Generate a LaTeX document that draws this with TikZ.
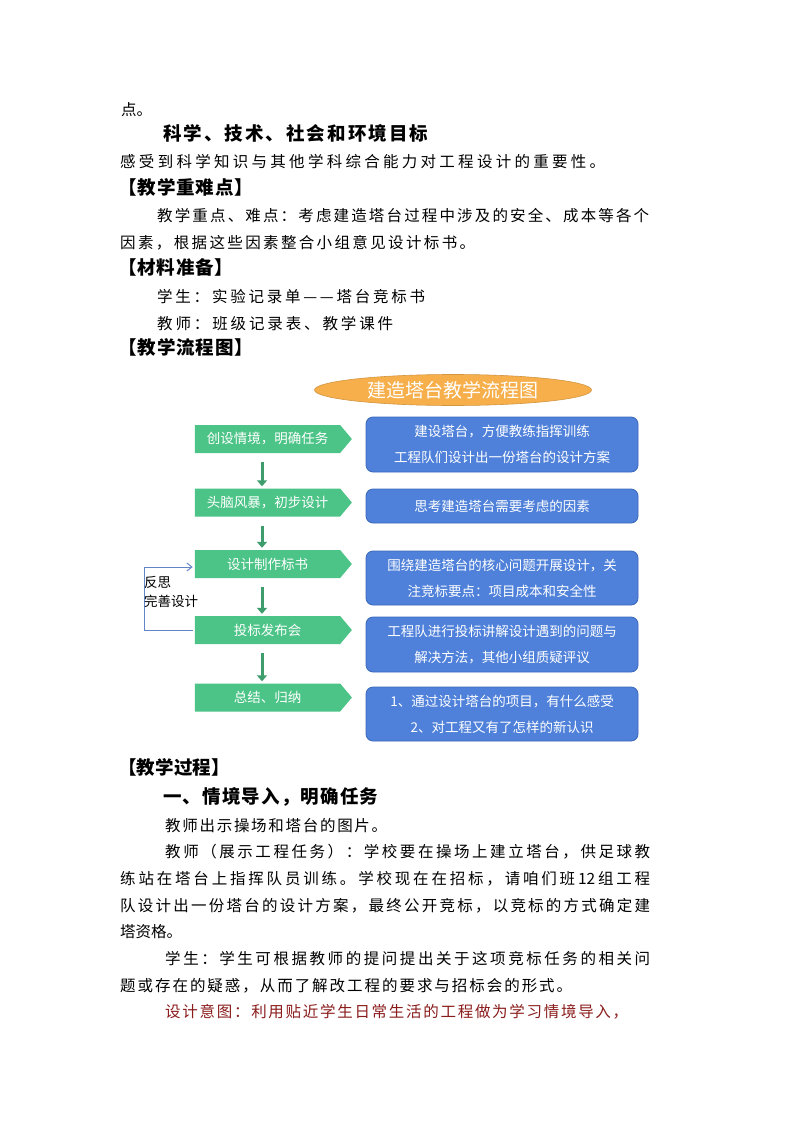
\documentclass[tikz,border=0pt]{standalone}
\usepackage{fontspec}
\setmainfont{Noto Sans CJK SC}
\usetikzlibrary{shapes.symbols,shapes.geometric,arrows.meta}
\makeatletter
\def\sprEnd{\sprEnd}
\def\spr#1#2\sprEnd{#1\sprA#2\sprEnd}
\def\sprA#1{\def\spr@t{#1}\ifx\spr@t\sprEnd\else\hfill#1\expandafter\sprA\fi}
\makeatother
\definecolor{gfill}{HTML}{4CC487}
\definecolor{bfill}{HTML}{4F81DA}
\definecolor{bline}{HTML}{3A67BA}
\definecolor{ofill}{HTML}{F7AF4B}
\definecolor{dred}{HTML}{8B1C1C}
\tikzset{
 body/.style={font=\fontsize{15.5}{18}\selectfont},
 head/.style={font=\fontsize{18.5}{20}\selectfont\bfseries},
 gbox/.style={shape=signal,signal to=east,signal pointer angle=100,fill=gfill,text=white,minimum width=157pt,minimum height=28pt,inner sep=0,font=\fontsize{13.5}{16}\selectfont},
 bbox/.style={rounded corners=7pt,fill=bfill,draw=bline,line width=0.8pt,text=white,minimum width=272pt,inner sep=0,align=center,font=\fontsize{13.5}{26}\selectfont},
 garrow/.style={draw=gfill!80!black,line width=3pt,-{Triangle[width=10pt,length=6pt]},shorten <=9pt,shorten >=2pt},
 fb/.style={draw=bline!80,line width=1pt,-{Straight Barb[length=5pt,width=8pt]}}
}
\begin{document}
\begin{tikzpicture}[x=1pt,y=-1pt]
\useasboundingbox[fill=white] (0,0) rectangle (794,1123);
% top text
\node[anchor=west,inner sep=0,body] (t0) at (121,110) {点。};
\node[anchor=west,inner sep=0,head] (h1) at (163,133) {\makebox[265pt][l]{\spr 科学、技术、社会和环境目标\sprEnd}};
\node[anchor=west,inner sep=0,body] (t1) at (120,162) {\makebox[485pt][l]{\spr 感受到科学知识与其他学科综合能力对工程设计的重要性。\sprEnd}};
\node[anchor=west,inner sep=0,head] (h2) at (118,187) {\makebox[135pt][l]{\spr 【教学重难点】\sprEnd}};
\node[anchor=west,inner sep=0,body] (t2) at (157,216) {\makebox[492pt][l]{\spr 教学重点、难点：考虑建造塔台过程中涉及的安全、成本等各个\sprEnd}};
\node[anchor=west,inner sep=0,body] (t3) at (120,243) {\makebox[355pt][l]{\spr 因素，根据这些因素整合小组意见设计标书。\sprEnd}};
\node[anchor=west,inner sep=0,head] (h3) at (118,267) {\makebox[115pt][l]{\spr 【材料准备】\sprEnd}};
\node[anchor=west,inner sep=0,body] (t4) at (157,297) {\makebox[268pt][l]{\spr 学生：实验记录单——塔台竞标书\sprEnd}};
\node[anchor=west,inner sep=0,body] (t5) at (157,324) {\makebox[236pt][l]{\spr 教师：班级记录表、教学课件\sprEnd}};
\node[anchor=west,inner sep=0,head] (h4) at (118,347) {\makebox[135pt][l]{\spr 【教学流程图】\sprEnd}};
% flowchart
\node[ellipse,fill=ofill,draw=ofill!85!black,line width=0.6pt,minimum width=277pt,minimum height=31pt,inner sep=0,text=white,font=\fontsize{19}{20}\selectfont] (title) at (453,390) {建造塔台教学流程图};
\node[gbox] (g1) at (267.5,439) {创设情境，明确任务};
\node[gbox] (g2) at (267.5,502.5) {头脑风暴，初步设计};
\node[gbox] (g3) at (267.5,564) {设计制作标书};
\node[gbox] (g4) at (267.5,630) {投标发布会};
\node[gbox] (g5) at (267.5,697.5) {总结、归纳};
\node[bbox,minimum height=55pt] (b1) at (502,444.5) {建设塔台，方便教练指挥训练\\工程队们设计出一份塔台的设计方案};
\node[bbox,minimum height=34pt] (b2) at (502,506) {思考建造塔台需要考虑的因素};
\node[bbox,minimum height=54pt] (b3) at (502,578) {围绕建造塔台的核心问题开展设计，关\\注竞标要点：项目成本和安全性};
\node[bbox,minimum height=55pt] (b4) at (502,644.5) {工程队进行投标讲解设计遇到的问题与\\解决方法，其他小组质疑评议};
\node[bbox,minimum height=54pt] (b5) at (502,714) {1、通过设计塔台的项目，有什么感受\\2、对工程又有了怎样的新认识};
\foreach \a/\b in {g1/g2,g2/g3,g3/g4,g4/g5}
  \draw[garrow] ([xshift=-5.5pt]\a.south) -- ([xshift=-5.5pt]\b.north);
\draw[fb] ([xshift=-2pt]g4.west) -- ++(-48,0) |- ([xshift=-2pt,yshift=-3pt]g3.west);
\node[anchor=north west,inner sep=0,align=left,font=\fontsize{13.5}{19}\selectfont] (fbl) at (144,576) {反思\\完善设计};
% bottom text
\node[anchor=west,inner sep=0,head] (h5) at (118,767) {\makebox[112pt][l]{\spr 【教学过程】\sprEnd}};
\node[anchor=west,inner sep=0,head] (h6) at (163,797) {\makebox[215pt][l]{\spr 一、情境导入，明确任务\sprEnd}};
\node[anchor=west,inner sep=0,body] (p1) at (165,826) {\makebox[222pt][l]{\spr 教师出示操场和塔台的图片。\sprEnd}};
\node[anchor=west,inner sep=0,body] (p2) at (165,852) {\makebox[485pt][l]{\spr 教师（展示工程任务）：学校要在操场上建立塔台，供足球教\sprEnd}};
\node[anchor=west,inner sep=0,body] (p3) at (120,879) {\makebox[530pt][l]{\spr 练站在塔台上指挥队员训练。学校现在在招标，请咱们班{12}组工程\sprEnd}};
\node[anchor=west,inner sep=0,body] (p4) at (120,906) {\makebox[530pt][l]{\spr 队设计出一份塔台的设计方案，最终公开竞标，以竞标的方式确定建\sprEnd}};
\node[anchor=west,inner sep=0,body] (p5) at (120,932) {\makebox[62pt][l]{\spr 塔资格。\sprEnd}};
\node[anchor=west,inner sep=0,body] (p6) at (165,959) {\makebox[485pt][l]{\spr 学生：学生可根据教师的提问提出关于这项竞标任务的相关问\sprEnd}};
\node[anchor=west,inner sep=0,body] (p7) at (120,986) {\makebox[452pt][l]{\spr 题或存在的疑惑，从而了解改工程的要求与招标会的形式。\sprEnd}};
\node[anchor=west,inner sep=0,body,text=dred] (p8) at (165,1012) {\makebox[463pt][l]{\spr 设计意图：利用贴近学生日常生活的工程做为学习情境导入，\sprEnd}};
\end{tikzpicture}
\end{document}
